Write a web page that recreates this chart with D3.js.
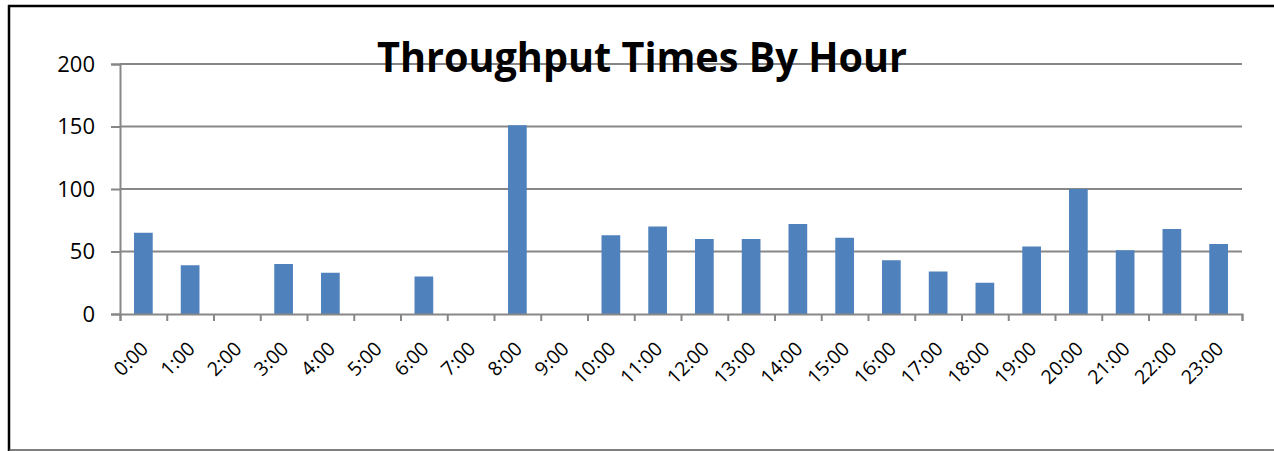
<!DOCTYPE html>
<meta charset="utf-8">
<head>
  <script src="https://d3js.org/d3.v7.min.js"></script>
  <style>
    body { margin: 0; background: #fff; }
    .grafico text { font-family: "Open Sans", sans-serif; fill: #000; }
  </style>
</head>
<body>
  <div id="chart"></div>

  <script type="text/javascript">
    "use strict"

    // dados
    var horas = ["0:00", "1:00", "2:00", "3:00", "4:00", "5:00", "6:00", "7:00",
                 "8:00", "9:00", "10:00", "11:00", "12:00", "13:00", "14:00", "15:00",
                 "16:00", "17:00", "18:00", "19:00", "20:00", "21:00", "22:00", "23:00"];
    var tempos = [65, 39, 0, 40, 33, 0, 30, 0,
                  151, 0, 63, 70, 60, 60, 72, 61,
                  43, 34, 25, 54, 100, 51, 68, 56];
    var ticksY = [0, 50, 100, 150, 200];
    var titulo = "Throughput Times By Hour";

    var larguraSVG = 1274, alturaSVG = 451;
    var margin = {top: 64, right: 32, bottom: 137, left: 120};

    var svg = d3.select('#chart')
                .append('svg')
                  .attr('class', 'grafico')
                  .attr('width', larguraSVG)
                  .attr('height', alturaSVG);

    // moldura do gráfico
    svg.append('line')
       .attr('x1', 9).attr('x2', 9).attr('y1', 5).attr('y2', 451)
       .attr('stroke', '#000').attr('stroke-width', 2.5);
    svg.append('line')
       .attr('x1', 8).attr('x2', larguraSVG).attr('y1', 6).attr('y2', 6)
       .attr('stroke', '#000').attr('stroke-width', 2.5);
    svg.append('line')
       .attr('x1', 9).attr('x2', larguraSVG).attr('y1', 450).attr('y2', 450)
       .attr('stroke', '#555').attr('stroke-width', 1.5);

    var x = d3.scaleBand()
              .domain(horas)
              .range([margin.left, larguraSVG - margin.right])
              .paddingInner(0.6)
              .paddingOuter(0.3);

    var y = d3.scaleLinear()
              .domain([0, 200])
              .range([alturaSVG - margin.bottom, margin.top]);

    var xBordas = d3.scaleLinear()
                    .domain([0, horas.length])
                    .range([margin.left, larguraSVG - margin.right]);

    // linhas de grade
    svg.append('g')
       .selectAll('line')
       .data(ticksY.filter(d => d > 0))
       .enter()
       .append('line')
       .attr('x1', margin.left)
       .attr('x2', larguraSVG - margin.right)
       .attr('y1', d => y(d))
       .attr('y2', d => y(d))
       .attr('stroke', '#878787')
       .attr('stroke-width', 2);

    // barras
    svg.append('g')
       .selectAll('rect')
       .data(tempos)
       .enter()
       .append('rect')
       .attr('x', (d, i) => x(horas[i]))
       .attr('width', x.bandwidth())
       .attr('y', d => y(d))
       .attr('height', d => y(0) - y(d))
       .attr('fill', '#4F81BD');

    // eixo Y
    var eixoY = svg.append('g')
       .attr('transform', 'translate(' + margin.left + ',0)')
       .call(d3.axisLeft(y).tickValues(ticksY).tickSize(9).tickPadding(16));
    eixoY.select('.domain').attr('stroke', '#878787').attr('stroke-width', 2);
    eixoY.selectAll('.tick line').attr('stroke', '#878787').attr('stroke-width', 2);
    eixoY.selectAll('text').style('font-size', '22px');

    // eixo X (marcas nas bordas das categorias)
    var eixoX = svg.append('g')
       .attr('transform', 'translate(0,' + y(0) + ')')
       .call(d3.axisBottom(xBordas).ticks(horas.length).tickSize(7).tickFormat(''));
    eixoX.select('.domain').attr('stroke', '#878787').attr('stroke-width', 2);
    eixoX.selectAll('.tick line').attr('stroke', '#878787').attr('stroke-width', 2);

    // rótulos X inclinados
    svg.append('g')
       .selectAll('text')
       .data(horas)
       .enter()
       .append('text')
       .attr('transform', d => 'translate(' + (x(d) + x.bandwidth() / 2 + 6) + ',' + (y(0) + 36) + ') rotate(-45)')
       .attr('text-anchor', 'end')
       .style('font-size', '19.5px')
       .text(d => d);

    // título
    svg.append('text')
       .attr('x', 642)
       .attr('y', 72)
       .attr('text-anchor', 'middle')
       .attr('textLength', 530)
       .attr('lengthAdjust', 'spacingAndGlyphs')
       .style('font-size', '42px')
       .style('font-weight', 'bold')
       .text(titulo);
  </script>
</body>
</html>
